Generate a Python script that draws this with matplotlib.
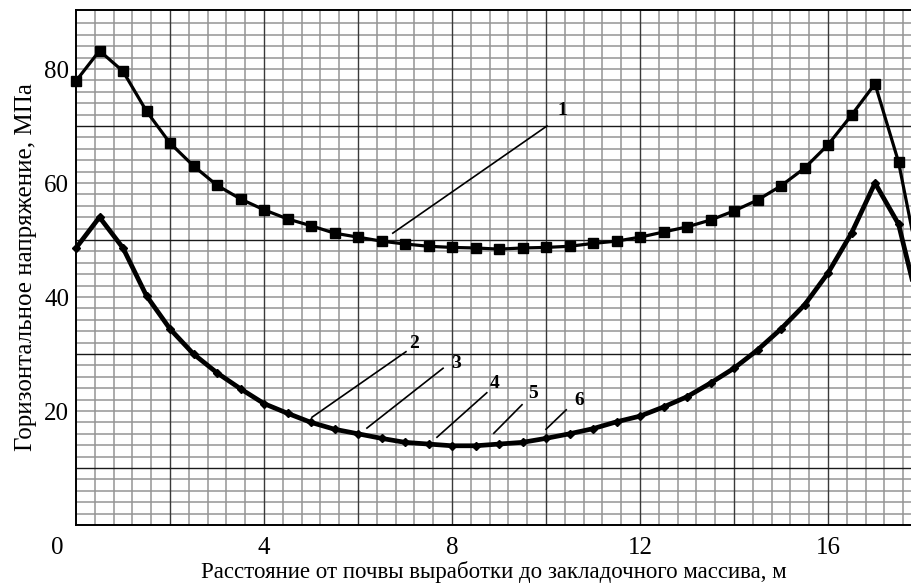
import numpy as np
import matplotlib
matplotlib.use("Agg")
import matplotlib.pyplot as plt
import matplotlib.transforms as mtransforms

plt.rcParams['font.family'] = ['Liberation Serif', 'DejaVu Serif']

# ---- data ----
x_pts = [0.0, 0.5, 1.0, 1.5, 2.0, 2.5, 3.0, 3.5, 4.0, 4.5, 5.0, 5.5, 6.0, 6.5, 7.0,
         7.5, 8.0, 8.5, 9.0, 9.5, 10.0, 10.5, 11.0, 11.5, 12.0, 12.5, 13.0, 13.5,
         14.0, 14.5, 15.0, 15.5, 16.0, 16.5, 17.0, 17.5, 18.0]
curve1 = [77.9, 83.2, 79.6, 72.6, 67.0, 63.0, 59.6, 57.2, 55.3, 53.7, 52.5, 51.2,
          50.5, 49.8, 49.3, 48.9, 48.7, 48.6, 48.4, 48.6, 48.7, 48.9, 49.4, 49.8,
          50.5, 51.4, 52.3, 53.5, 55.1, 57.0, 59.5, 62.6, 66.7, 71.9, 77.4, 63.7, 43.0]
curve2_6 = [48.6, 54.0, 48.6, 40.2, 34.4, 30.0, 26.7, 23.9, 21.3, 19.6, 18.0, 16.8,
            16.0, 15.2, 14.5, 14.2, 13.9, 13.9, 14.2, 14.5, 15.2, 16.0, 16.9, 18.1,
            19.1, 20.7, 22.5, 24.9, 27.5, 30.7, 34.4, 38.6, 44.2, 51.2, 60.0, 52.8, 36.0]

curve_labels = ['1', '2', '3', '4', '5', '6']
# leader lines: (x_start, y_start, x_end, y_end)
leader_start_x = [6.74, 5.02, 6.19, 7.68, 8.89, 10.00]
leader_start_y = [51.2, 18.9, 17.0, 15.4, 16.1, 16.8]
leader_end_x = [10.02, 7.02, 7.81, 8.74, 9.49, 10.43]
leader_end_y = [70.0, 30.4, 27.5, 23.2, 21.1, 20.2]
label_x = [10.34, 7.19, 8.09, 8.91, 9.72, 10.70]
label_y = [72.8, 31.9, 28.4, 24.9, 23.0, 21.9]

x_ticks = [0, 4, 8, 12, 16]
y_ticks = [20, 40, 60, 80]
xlabel = 'Расстояние от почвы выработки до закладочного массива, м'
ylabel = 'Горизонтальное напряжение, МПа'

W, H = 911, 588
fig = plt.figure(figsize=(W / 100, H / 100), dpi=100)
ax = fig.add_axes([76 / W, 63 / H, 835 / W, 515 / H])
xmax, ymax = 835 / 47.0, 515 / 5.7
ax.set_xlim(0, xmax)
ax.set_ylim(0, ymax)

# graph-paper grid
minor_x = [v for v in np.round(np.arange(0.4, xmax, 0.4), 2) if abs(v / 2 - round(v / 2)) > 1e-6]
major_x = np.arange(2, xmax, 2)
minor_y = [v for v in np.arange(2, ymax, 2) if (v - 10) % 20 != 0]
major_y = [10, 30, 50, 70]
ax.vlines(minor_x, 0, ymax, colors='#959595', lw=1.1, zorder=1)
ax.hlines(minor_y, 0, xmax, colors='#959595', lw=1.1, zorder=1)
ax.vlines(major_x, 0, ymax, colors='#3a3a3a', lw=1.0, zorder=1.5)
ax.hlines(major_y, 0, xmax, colors='#1a1a1a', lw=1.0, zorder=1.5)

# curves
x_arr = np.array(x_pts)
vis = x_arr <= 17.5
ax.plot(x_pts, curve1, color='black', lw=2.3, solid_joinstyle='round', zorder=3)
ax.plot(x_arr[vis], np.array(curve1)[vis], ls='none', marker='s', ms=7.5,
        color='black', clip_on=False, zorder=4)
ax.plot(x_pts, curve2_6, color='black', lw=3.4, solid_joinstyle='round', zorder=3)
ax.plot(x_arr[vis], np.array(curve2_6)[vis], ls='none', marker='D', ms=4.5,
        color='black', clip_on=False, zorder=4)

# leader lines and labels
for i, lab in enumerate(curve_labels):
    ax.plot([leader_start_x[i], leader_end_x[i]], [leader_start_y[i], leader_end_y[i]],
            color='black', lw=1.2, zorder=5)
    ax.text(label_x[i], label_y[i], lab, fontsize=14, fontweight='bold',
            ha='center', va='center', zorder=6)

for s in ['top', 'left', 'bottom']:
    ax.spines[s].set_linewidth(1.4)
    ax.spines[s].set_color('black')
ax.spines['right'].set_visible(False)

ax.set_xticks(x_ticks)
ax.set_yticks(y_ticks)
ax.tick_params(length=0, labelsize=18)
ax.tick_params(axis='x', pad=9)
ax.tick_params(axis='y', pad=5)
# shift the "0" label left as in the reference
lbl0 = ax.get_xticklabels()[0]
lbl0.set_transform(lbl0.get_transform() + mtransforms.ScaledTranslation(-0.19, 0, fig.dpi_scale_trans))

ax.set_xlabel(xlabel, fontsize=16.5, labelpad=1)
ax.set_ylabel(ylabel, fontsize=18, labelpad=5)

fig.savefig('out.png', dpi=100)
